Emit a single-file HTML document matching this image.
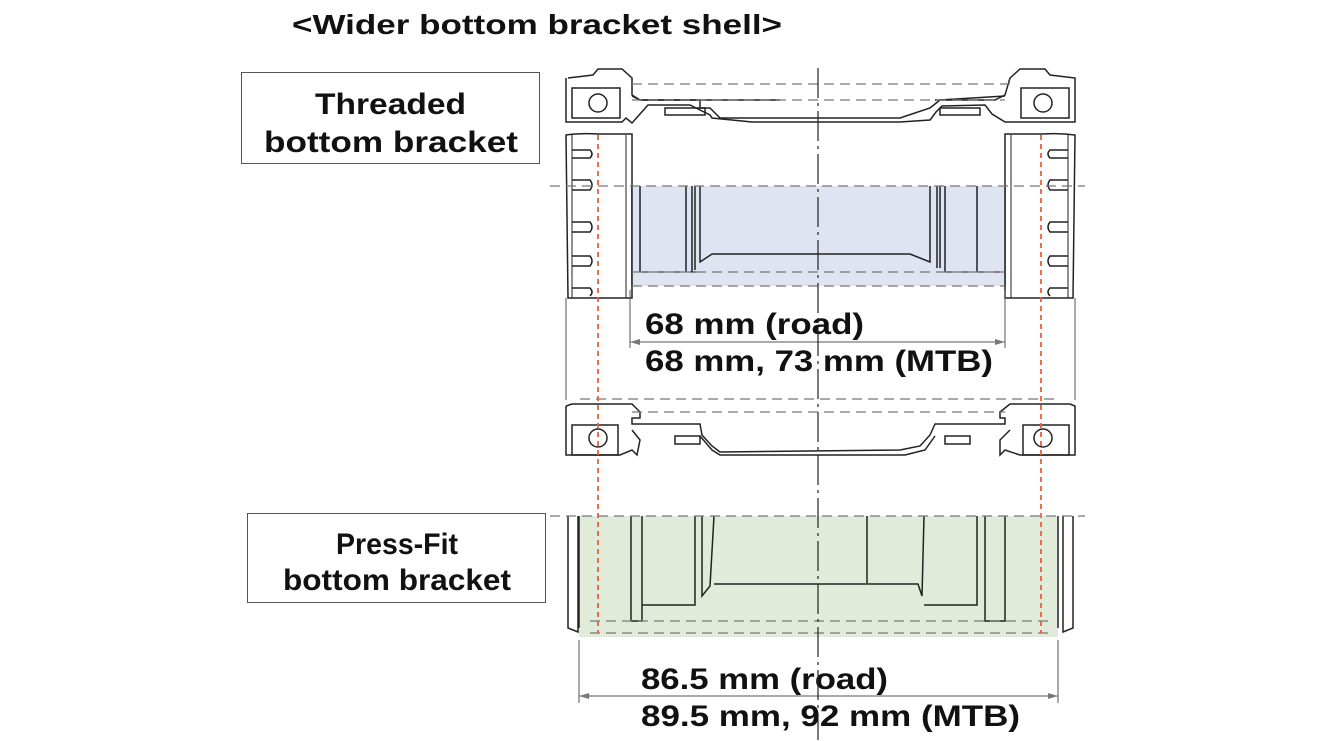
<!DOCTYPE html>
<html><head><meta charset="utf-8"><style>
html,body{margin:0;padding:0;background:#fff;}
svg{display:block;}
text{font-family:"Liberation Sans",sans-serif;font-weight:bold;fill:#111;}
</style></head><body>
<svg width="1320" height="741" viewBox="0 0 1320 741" xmlns="http://www.w3.org/2000/svg">
<text x="292" y="34" font-size="28" textLength="490" lengthAdjust="spacingAndGlyphs">&lt;Wider bottom bracket shell&gt;</text>

<rect x="241.5" y="72.5" width="298" height="91" fill="#fff" stroke="#555" stroke-width="1"/>
<text x="315" y="114" font-size="30" textLength="151" lengthAdjust="spacingAndGlyphs">Threaded</text>
<text x="264" y="152" font-size="30" textLength="254" lengthAdjust="spacingAndGlyphs">bottom bracket</text>
<rect x="247.5" y="513.5" width="298" height="89" fill="#fff" stroke="#555" stroke-width="1"/>
<text x="336" y="554" font-size="30" textLength="122" lengthAdjust="spacingAndGlyphs">Press-Fit</text>
<text x="283" y="590" font-size="30" textLength="228" lengthAdjust="spacingAndGlyphs">bottom bracket</text>

<g fill="none" stroke="#222" stroke-width="1.5">
<path d="M568 78 L593 75 L598 69 L622 69 L632 78 L632 95 L640 100 L700 100 L720 100 L780 100 L700 100" />
<path d="M566 78 L566 122 L622 122 L626 118 L632 123 L648 105 L690 105 L700 110 L710 115 L712 118 L752 122 L830 122 L900 122 L930 120 L936 112 L942 106 L985 105 L992 114 L1005 122 L1075 122 L1075 78 L1050 75 L1045 69 L1020 69 L1010 78 L1005 95 L995 100 L935 100"/>
<path d="M632 96 L640 100 L700 100 L700 108 L710 108 L720 118 L900 118 L930 108 L940 100 L1005 96"/>
<path d="M665 108 L705 108 L705 115 L665 115 Z"/>
<path d="M940 108 L980 108 L980 115 L940 115 Z"/>
<rect x="572" y="88" width="48" height="30"/>
<rect x="1021" y="88" width="48" height="30"/>
<circle cx="598" cy="103" r="9"/>
<circle cx="1043" cy="103" r="9"/>

<path d="M566 135 Q580 133 598 134 L632 134 L632 298 L568 298 Z" fill="#fff"/>
<path d="M1075 135 Q1060 133 1043 134 L1005 134 L1005 298 L1073 298 Z" fill="#fff"/>
<path d="M572 135 L572 298 M626 135 L626 298 M1011 135 L1011 298 M1068 135 L1068 298" stroke-width="1"/>
</g>
<rect x="632" y="186" width="373" height="100" fill="#dfe4f2"/>
<g fill="none" stroke="#222" stroke-width="1.5">
<path d="M632 186 L632 286 M1005 186 L1005 286"/>
<path d="M640 186 L640 272 M686 186 L686 272 M692 186 L692 272 M695 186 L695 270 M700 186 L700 262 L712 254 L910 254 L930 262 L930 186 M937 186 L937 268 M940 186 L940 268 M945 186 L945 272 M977 186 L977 272"/>
<path d="M632 272 L700 272 M937 272 L1005 272" stroke-width="1"/>
<path d="M572 150 L590 150 Q594 154 590 158 L572 158 M572 180 L590 180 Q594 185 590 190 L572 190 M572 222 L590 222 Q594 227 590 232 L572 232 M572 256 L590 256 Q594 261 590 266 L572 266 M572 288 L590 288 Q594 292 590 296"/>
<path d="M1068 150 L1050 150 Q1046 154 1050 158 L1068 158 M1068 180 L1050 180 Q1046 185 1050 190 L1068 190 M1068 222 L1050 222 Q1046 227 1050 232 L1068 232 M1068 256 L1050 256 Q1046 261 1050 266 L1068 266 M1068 288 L1050 288 Q1046 292 1050 296"/>
</g>
<g stroke="#777" stroke-width="1.2" stroke-dasharray="10 6" fill="none">
<path d="M632 84 L1010 84 M632 100 L1005 100"/>
<path d="M550 186 L1085 186"/>
<path d="M632 272 L1005 272 M632 286 L1005 286"/>
</g>

<g stroke="#555" stroke-width="1" fill="none">
<path d="M630 290 L630 348 M1005 290 L1005 348 M630 342 L1005 342"/>
<path d="M566 298 L566 400 M1075 298 L1075 400"/>
<path d="M579 640 L579 703 M1058 640 L1058 703 M579 696 L1058 696"/>
</g>
<path d="M630 342 L640 339 L640 345 Z M1005 342 L995 339 L995 345 Z M579 696 L589 693 L589 699 Z M1058 696 L1048 693 L1048 699 Z" fill="#777"/>
<text x="645" y="334" font-size="30" textLength="219" lengthAdjust="spacingAndGlyphs">68 mm (road)</text>
<text x="645" y="371" font-size="30" textLength="348" lengthAdjust="spacingAndGlyphs">68 mm, 73 mm (MTB)</text>

<g fill="none" stroke="#222" stroke-width="1.5">
<path d="M566 406 L572 404 L632 404 L640 412 L640 418 L632 418 L632 424 L700 424 L702 435 L712 446 L720 452 L900 450 L920 446 L930 435 L935 424 L1005 424 L1005 418 L1000 418 L1000 412 L1010 404 L1070 404 L1075 406 L1075 455 L1020 455 L1005 450 L1000 455 L1000 440 L1010 430 M566 406 L566 455 L620 455 L632 450 L637 455 L640 440 L632 430"/>
<path d="M700 436 L712 450 L720 455 L905 455 L925 450 L935 436"/>
<path d="M675 436 L700 436 L700 444 L675 444 Z M945 436 L970 436 L970 444 L945 444 Z"/>
<rect x="572" y="425" width="46" height="30"/>
<rect x="1023" y="425" width="46" height="30"/>
<circle cx="598" cy="438" r="9"/>
<circle cx="1043" cy="438" r="9"/>
</g>
<g stroke="#777" stroke-width="1.2" stroke-dasharray="10 6" fill="none">
<path d="M580 399 L1060 399 M632 412 L1005 412"/>
</g>

<rect x="579" y="516" width="479" height="121" fill="#e0ecd9"/>
<g fill="none" stroke="#222" stroke-width="1.5">
<path d="M568 516 L568 628 L578 632 L578 516 M1073 516 L1073 628 L1063 632 L1063 516"/>
<path d="M579 516 L579 628 M1058 516 L1058 628"/>
<path d="M631 516 L631 621 L642 621 L642 516 M642 605 L695 605 L695 516 M702 516 L702 596 L710 586 L714 516 M714 584 L866 584 M867 516 L867 584 L918 584 L922 596 L924 516 M924 605 L977 605 L977 516 M985 516 L985 621 L1005 621 L1005 516"/>
</g>
<g stroke="#777" stroke-width="1.2" stroke-dasharray="10 6" fill="none">
<path d="M550 516 L1085 516"/>
<path d="M590 621 L1050 621 M590 633 L1050 633"/>
</g>
<text x="641" y="689" font-size="30" textLength="247" lengthAdjust="spacingAndGlyphs">86.5 mm (road)</text>
<text x="641" y="726" font-size="30" textLength="379" lengthAdjust="spacingAndGlyphs">89.5 mm, 92 mm (MTB)</text>

<path d="M818 68 L818 740" stroke="#222" stroke-width="1.2" stroke-dasharray="30 5 3 5" fill="none"/>
<path d="M598 135 L598 633 M1041 135 L1041 633" stroke="#e8603a" stroke-width="1.8" stroke-dasharray="5 4" fill="none"/>
</svg>
</body></html>
